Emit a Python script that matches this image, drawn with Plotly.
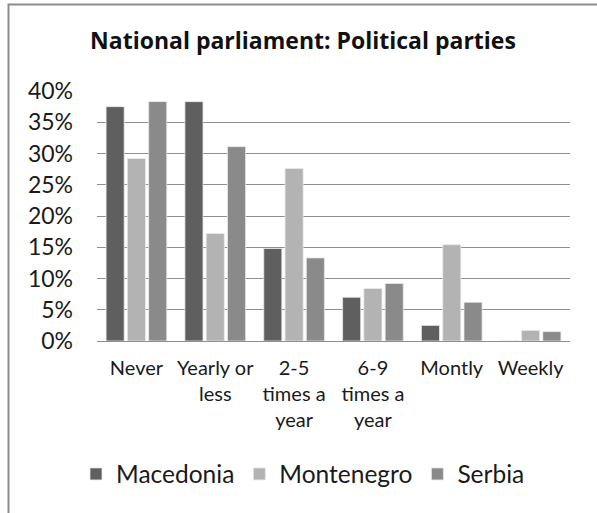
import plotly.graph_objects as go

categories = ["Never", "Yearly or<br>less", "2-5<br>times a<br>year", "6-9<br>times a<br>year", "Montly", "Weekly"]
macedonia = [0.375, 0.383, 0.148, 0.070, 0.025, 0.0]
montenegro = [0.292, 0.172, 0.276, 0.084, 0.154, 0.017]
serbia = [0.383, 0.311, 0.133, 0.092, 0.062, 0.015]

series = [("Macedonia", macedonia, "#5f5f5f"),
          ("Montenegro", montenegro, "#b3b3b3"),
          ("Serbia", serbia, "#8a8a8a")]

FONT = "Lato, 'Open Sans', sans-serif"
TFONT = "'Open Sans', Lato, sans-serif"

fig = go.Figure()
for name, vals, col in series:
    fig.add_trace(go.Bar(x=categories, y=vals, name=name,
                         marker=dict(color=col, line=dict(color="#e8e8e8", width=0.8))))

W, H = 597, 513
L, R, T, B = 97, 27, 91, 172
pw = W - L - R
ph = H - T - B

fig.update_layout(
    width=W, height=H,
    margin=dict(l=L, r=R, t=T, b=B, autoexpand=False),
    paper_bgcolor="white", plot_bgcolor="white",
    barmode="group", bargap=0.19, bargroupgap=0.15,
    font=dict(family=FONT, color="#1a1a1a"),
    title=dict(text="<b>National parliament: Political parties</b>",
               font=dict(size=23, family=TFONT, color="#111"),
               xref="paper", x=(303 - L) / pw, xanchor="center",
               yref="container", y=1 - 41 / H, yanchor="middle"),
    showlegend=True,
    legend=dict(orientation="h", xref="paper", x=(303 - L) / pw, xanchor="center",
                yref="paper", y=(H - B - 474) / ph, yanchor="middle",
                font=dict(size=24.5, family=FONT, color="#1a1a1a"),
                traceorder="normal"),
    xaxis=dict(showgrid=False, showline=False, ticks="", tickfont=dict(size=20, color="#1a1a1a"),
               ticklabelstandoff=13, tickangle=0),
    yaxis=dict(range=[0, 0.4], dtick=0.05, tickformat=".0%", showgrid=True,
               gridcolor="#8f8f8f", gridwidth=1, zeroline=True, zerolinecolor="#8f8f8f",
               zerolinewidth=1, showline=False, ticks="",
               tickfont=dict(size=23, color="#1a1a1a"), ticklabelstandoff=23),
)

# chart area border (cropped on the right and bottom)
fig.add_shape(type="rect", xref="paper", yref="paper",
              x0=(8.5 - L) / pw, x1=2.0, y0=-2.0, y1=(H - B - 4.5) / ph,
              line=dict(color="#8c8c8c", width=2), fillcolor="rgba(0,0,0,0)", layer="below")

fig.write_html("out.html")
